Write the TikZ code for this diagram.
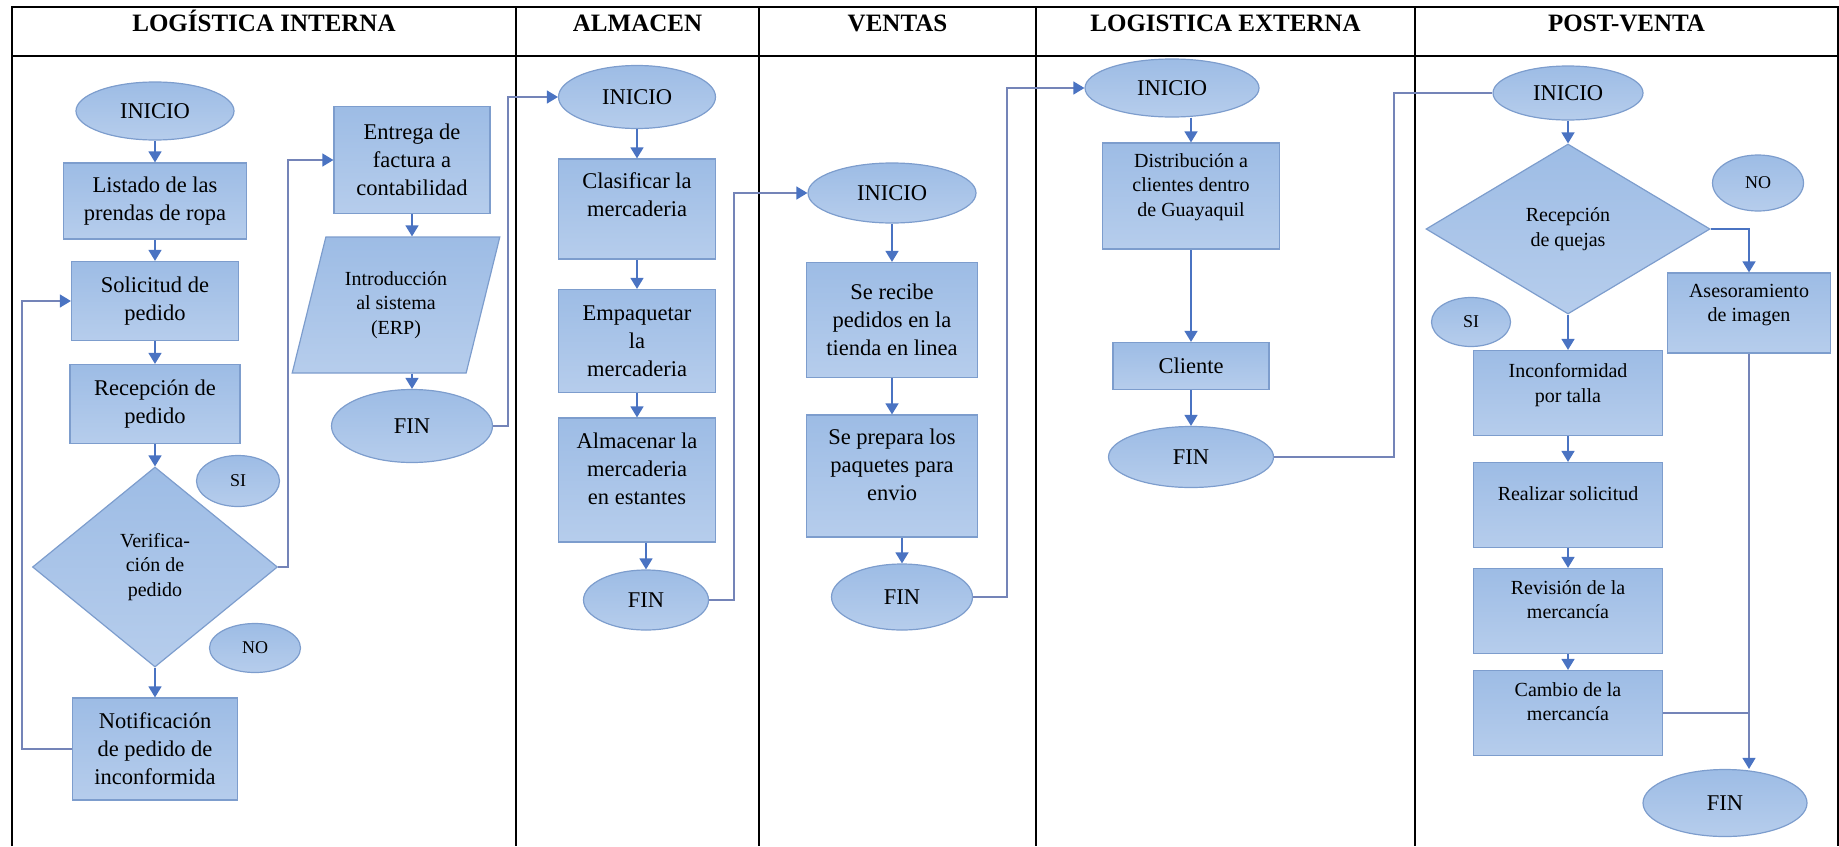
\documentclass[tikz,border=0pt]{standalone}
\usepackage{fontspec}
\setmainfont{Liberation Serif}
\usepackage{tikz}
\usetikzlibrary{arrows.meta, shapes.geometric}
\definecolor{edgeblue}{HTML}{7D9DCD}
\definecolor{topblue}{HTML}{9DBCE5}
\definecolor{lowblue}{HTML}{B6CDEC}
\definecolor{flowblue}{HTML}{4A73C2}
\definecolor{linkblue}{HTML}{7484B8}
\newlength{\pxu}\setlength{\pxu}{0.5pt}
\newcommand{\fmain}{\fontsize{11.25}{14}\selectfont}
\newcommand{\fsmall}{\fontsize{10}{12.3}\selectfont}
\newcommand{\ftag}{\fontsize{9}{11}\selectfont}
\newcommand{\fhead}{\fontsize{12.5}{15}\selectfont\bfseries}
\tikzstyle{blockfill}=[draw=edgeblue, line width=0.6pt, top color=topblue, bottom color=lowblue, text=black, align=center, inner sep=0pt]
\tikzstyle{terminal}=[ellipse, blockfill, font=\fmain]
\tikzstyle{process}=[rectangle, blockfill, font=\fmain]
\tikzstyle{decision}=[diamond, blockfill, font=\fsmall]
\tikzstyle{io}=[trapezium, trapezium left angle=70, trapezium right angle=110, trapezium stretches=true, blockfill, font=\fsmall]
\tikzstyle{tag}=[ellipse, blockfill, font=\ftag]
\tikzstyle{head}=[anchor=base, font=\fhead]
\tikzstyle{inflow}=[{Triangle[width=6.5pt,length=5.5pt]}-, draw=flowblue, line width=0.75pt]
\tikzstyle{flow}=[-{Triangle[width=6.5pt,length=5.5pt]}, draw=flowblue, line width=0.75pt]
\tikzstyle{link}=[draw=linkblue, line width=0.65pt]
\tikzstyle{linkto}=[link, -{Triangle[width=6.5pt,length=5.5pt,color=flowblue]}]
\tikzstyle{gridline}=[draw=black, line width=0.8pt]

\begin{document}
\begin{tikzpicture}[x=0.5pt, y=-0.5pt]
\useasboundingbox (0,0) rectangle (1839,846);
\draw[gridline] (12,846) -- (12,7) -- (1838,7) -- (1838,846);
\draw[gridline] (12,56) -- (1838,56);
\foreach \xx in {516,759,1036,1415} \draw[gridline] (\xx,7) -- (\xx,846);
\node[head] (h1) at (264,32) {LOGÍSTICA INTERNA};
\node[head] (h2) at (637.5,32) {ALMACEN};
\node[head] (h3) at (897.5,32) {VENTAS};
\node[head] (h4) at (1225.5,32) {LOGISTICA EXTERNA};
\node[head] (h5) at (1626.5,32) {POST-VENTA};

\node[terminal, minimum width=158\pxu, minimum height=58\pxu] (ini1) at (155,111) {INICIO};
\node[process, minimum width=183\pxu, minimum height=76\pxu] (lis) at (155,201) {Listado de las\\prendas de ropa}
      edge [inflow] (ini1);
\node[process, minimum width=167\pxu, minimum height=79\pxu] (sol) at (155,301) {Solicitud de\\pedido}
      edge [inflow] (lis);
\node[process, minimum width=170\pxu, minimum height=79\pxu] (rec) at (155,404) {Recepción de\\pedido}
      edge [inflow] (sol);
\node[decision, minimum width=245\pxu, minimum height=200\pxu] (ver) at (155,567) {Verifica-\\ción de\\pedido}
      edge [inflow] (rec);
\node[tag, minimum width=83\pxu, minimum height=51\pxu] (si1) at (238,481) {SI};
\node[tag, minimum width=91\pxu, minimum height=49\pxu] (no1) at (255,648) {NO};
\node[process, minimum width=165\pxu, minimum height=102\pxu] (noti) at (155,749) {Notificación\\de pedido de\\inconformida}
      edge [inflow] (ver);
\node[process, minimum width=156\pxu, minimum height=107\pxu] (ent) at (412,160) {Entrega de\\factura a\\contabilidad};
\node[io, minimum width=208\pxu, minimum height=136\pxu] (erp) at (396,305) {Introducción\\al sistema\\(ERP)};
\node[terminal, minimum width=161\pxu, minimum height=73\pxu] (fin1) at (412,426) {FIN};
\draw[flow] (ent.south) -- (ent.south |- erp.north);
\draw[flow] (erp.south -| fin1.north) -- (fin1.north);
\draw[linkto] (noti.west) -- ++(-50,0) |- (sol.west);
\draw[linkto] (ver.east) -- ++(10,0) |- (ent.west);

\node[terminal, minimum width=157\pxu, minimum height=63\pxu] (ini2) at (637,97) {INICIO};
\node[process, minimum width=157\pxu, minimum height=100\pxu] (cla) at (637,209) {Clasificar la\\mercaderia\\}
      edge [inflow] (ini2);
\node[process, minimum width=157\pxu, minimum height=103\pxu] (emp) at (637,341) {Empaquetar\\la\\mercaderia}
      edge [inflow] (cla);
\node[process, minimum width=157\pxu, minimum height=124\pxu] (alm) at (637,480) {Almacenar la\\mercaderia\\en estantes\\[-2.5pt]}
      edge [inflow] (emp);
\node[terminal, minimum width=125\pxu, minimum height=60\pxu] (fin2) at (646,600) {FIN};
\draw[flow] (alm.south -| fin2.north) -- (fin2.north);

\node[terminal, minimum width=168\pxu, minimum height=60\pxu] (ini3) at (892,193) {INICIO};
\node[process, minimum width=171\pxu, minimum height=115\pxu] (pedi) at (892,320) {Se recibe\\pedidos en la\\tienda en linea}
      edge [inflow] (ini3);
\node[process, minimum width=171\pxu, minimum height=122\pxu] (prep) at (892,476) {Se prepara los\\paquetes para\\envio\\[-2.5pt]}
      edge [inflow] (pedi);
\node[terminal, minimum width=141\pxu, minimum height=66\pxu] (fin3) at (902,597) {FIN};
\draw[flow] (prep.south -| fin3.north) -- (fin3.north);

\node[terminal, minimum width=174\pxu, minimum height=58\pxu] (ini4) at (1172,88) {INICIO};
\node[process, font=\fsmall, minimum width=177\pxu, minimum height=106\pxu] (dist) at (1191,196) {Distribución a\\clientes dentro\\de Guayaquil\\[-1pt]};
\node[process, minimum width=156\pxu, minimum height=47\pxu] (cli) at (1191,366) {Cliente}
      edge [inflow] (dist);
\node[terminal, minimum width=165\pxu, minimum height=61\pxu] (fin4) at (1191,457) {FIN}
      edge [inflow] (cli);
\draw[flow] (ini4.south -| dist.north) -- (dist.north);

\node[terminal, minimum width=150\pxu, minimum height=54\pxu] (ini5) at (1568,93) {INICIO};
\node[decision, minimum width=284\pxu, minimum height=170\pxu] (que) at (1568,229) {Recepción\\de quejas}
      edge [inflow] (ini5);
\node[tag, minimum width=91\pxu, minimum height=56\pxu] (no2) at (1758,183) {NO};
\node[process, font=\fsmall, minimum width=163\pxu, minimum height=80\pxu] (ase) at (1749,313) {Asesoramiento\\de imagen\\[-2pt]};
\node[tag, minimum width=79\pxu, minimum height=49\pxu] (si2) at (1471,322) {SI};
\node[process, font=\fsmall, minimum width=189\pxu, minimum height=85\pxu] (inco) at (1568,393) {Inconformidad\\por talla\\[-2pt]}
      edge [inflow] (que);
\node[process, font=\fsmall, minimum width=189\pxu, minimum height=85\pxu] (real) at (1568,505) {Realizar solicitud\\[-1pt]}
      edge [inflow] (inco);
\node[process, font=\fsmall, minimum width=189\pxu, minimum height=85\pxu] (revi) at (1568,611) {Revisión de la\\mercancía\\[-1pt]}
      edge [inflow] (real);
\node[process, font=\fsmall, minimum width=189\pxu, minimum height=85\pxu] (camb) at (1568,713) {Cambio de la\\mercancía\\[-1pt]}
      edge [inflow] (revi);
\node[terminal, minimum width=164\pxu, minimum height=67\pxu] (fin5) at (1725,803) {FIN};
\draw[flow] (que.east) -| (ase.north);
\draw[linkto] (ase.south) -- (ase.south |- fin5.north);
\draw[link] (camb.east) -- (camb.east -| ase.south);

\draw[linkto] (fin1.east) -- ++(15,0) |- (ini2.west);
\draw[linkto] (fin2.east) -- ++(25,0) |- (ini3.west);
\draw[linkto] (fin3.east) -- ++(34,0) |- (ini4.west);
\draw[link] (fin4.east) -- ++(120,0) |- (ini5.west);
\end{tikzpicture}
\end{document}
